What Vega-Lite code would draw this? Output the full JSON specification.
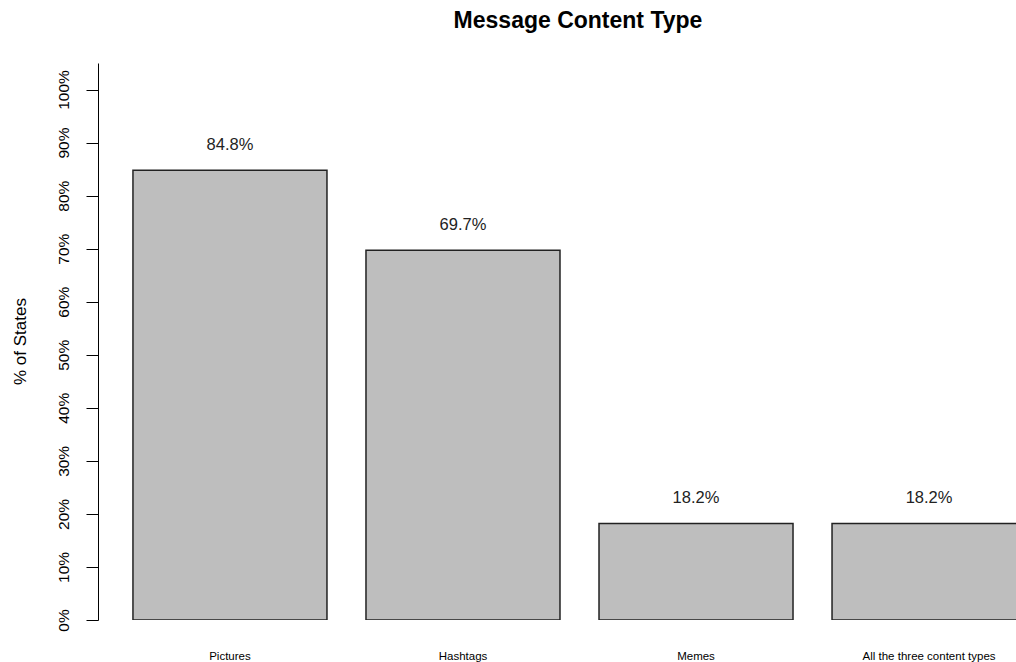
{
  "$schema": "https://vega.github.io/schema/vega-lite/v6.json",
  "autosize": "none",
  "padding": {"left": 98, "top": 63, "right": 0, "bottom": 42},
  "width": 918,
  "height": 557,
  "background": "white",
  "config": {
    "view": {"stroke": null},
    "font": "Liberation Sans"
  },
  "title": {
    "text": "Message Content Type",
    "font": "Liberation Sans",
    "fontSize": 23,
    "fontWeight": "bold",
    "color": "black",
    "anchor": "middle",
    "dx": 21,
    "offset": 30
  },
  "data": {
    "values": [
      {"type": "Pictures", "pct": 84.8, "label": "84.8%"},
      {"type": "Hashtags", "pct": 69.7, "label": "69.7%"},
      {"type": "Memes", "pct": 18.2, "label": "18.2%"},
      {"type": "All the three content types", "pct": 18.2, "label": "18.2%"}
    ]
  },
  "encoding": {
    "x": {
      "field": "type",
      "type": "nominal",
      "sort": null,
      "scale": {"range": [0, 963], "paddingInner": 0.1674, "paddingOuter": 0.15},
      "axis": {
        "title": null,
        "domain": false,
        "ticks": false,
        "labelAngle": 0,
        "labelFontSize": 11.5,
        "labelColor": "black",
        "labelPadding": 36,
        "labelBaseline": "middle",
        "labelOverlap": false
      }
    },
    "y": {
      "field": "pct",
      "type": "quantitative",
      "scale": {"domain": [0, 105], "nice": false, "zero": true},
      "axis": {
        "title": "% of States",
        "titleFontSize": 17,
        "titleFontWeight": "normal",
        "titleColor": "black",
        "titleAngle": -90,
        "titleX": -78,
        "titleY": 278,
        "titleAlign": "center",
        "titleBaseline": "middle",
        "values": [0, 10, 20, 30, 40, 50, 60, 70, 80, 90, 100],
        "labelExpr": "datum.value + '%'",
        "labelAngle": -90,
        "labelAlign": "center",
        "labelBaseline": "bottom",
        "labelPadding": 15,
        "labelFontSize": 15.5,
        "labelColor": "black",
        "tickSize": 12,
        "tickColor": "black",
        "domainColor": "black",
        "grid": false,
        "labelOverlap": false
      }
    }
  },
  "layer": [
    {
      "mark": {"type": "bar", "fill": "#bebebe", "stroke": "#222222", "strokeWidth": 1.5, "clip": true}
    },
    {
      "mark": {"type": "text", "baseline": "bottom", "dy": -17, "fontSize": 16.5, "color": "#222222", "clip": true},
      "encoding": {"text": {"field": "label"}}
    }
  ]
}
